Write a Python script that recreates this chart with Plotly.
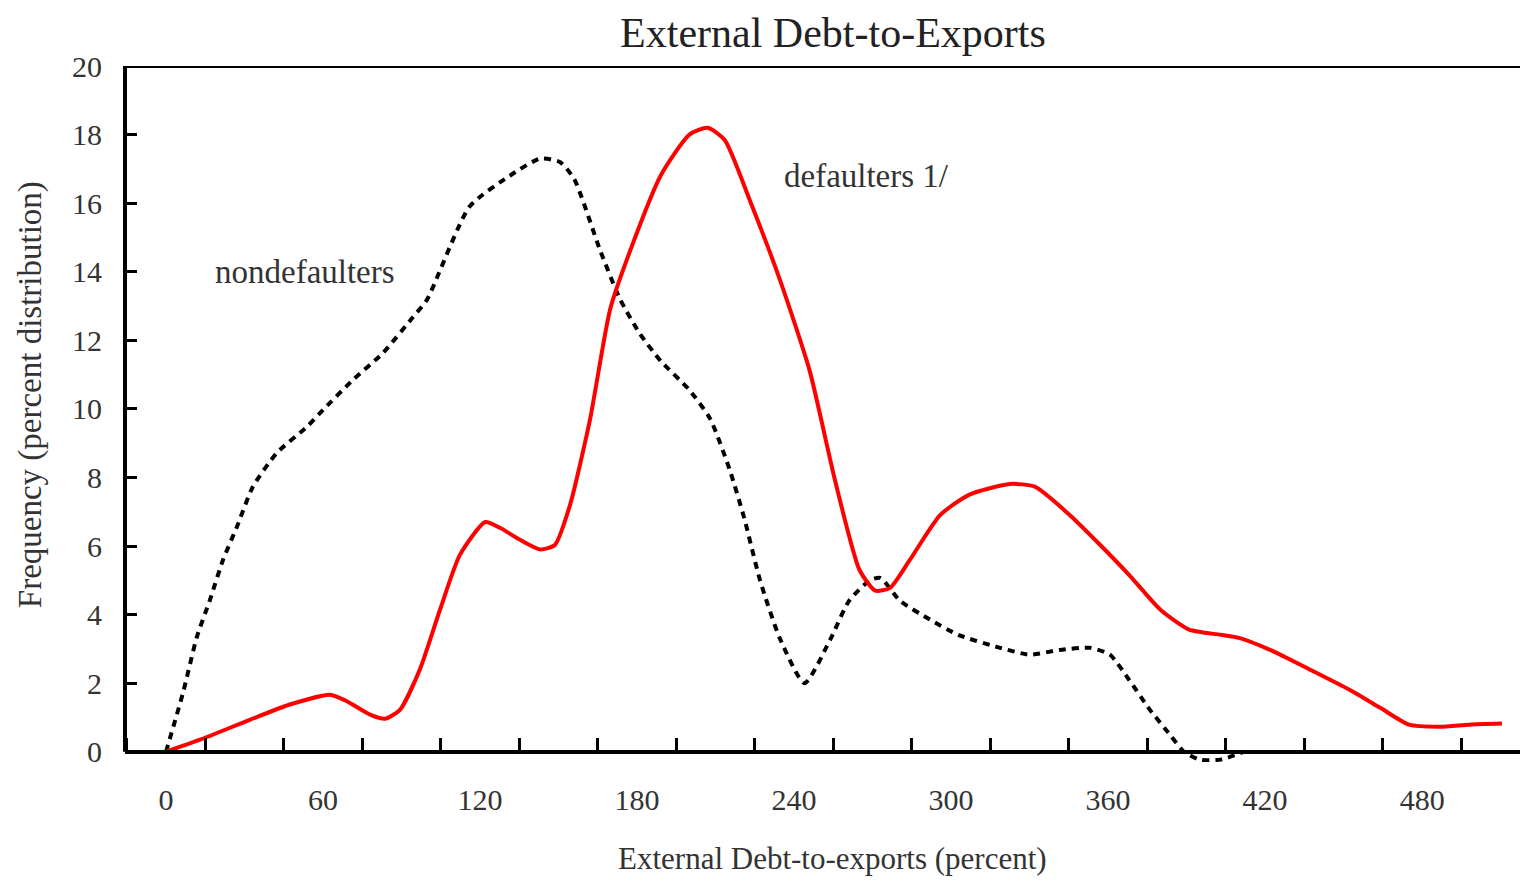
import plotly.graph_objects as go

FONT = "Liberation Serif, Times New Roman, serif"
TEXT = "#333333"

# nondefaulters (dotted black)
nd_x = [0, 6.5, 11.8, 16.8, 21.8, 27.1, 33.2, 42.4, 53.9, 60, 71.5, 82.9, 94.4, 99.7,
        116, 131.4, 143, 150.5, 156, 166, 173.5, 181, 189, 200, 208, 215.5, 221, 227,
        234.6, 244, 254, 261, 269, 273, 280.5, 292, 303, 318.7, 330, 341.6, 353,
        360.7, 368, 376, 383.6, 389, 395, 403, 412]
nd_y = [0, 1.72, 3.35, 4.43, 5.6, 6.56, 7.73, 8.72, 9.48, 9.97, 10.85, 11.63, 12.68, 13.18,
        15.9, 16.8, 17.3, 17.2, 16.7, 14.6, 13.2, 12.2, 11.4, 10.55, 9.7, 8.2, 6.8, 5.0,
        3.3, 2.0, 3.3, 4.4, 5.0, 5.07, 4.4, 3.85, 3.4, 3.03, 2.83, 2.97, 3.03,
        2.83, 2.1, 1.22, 0.5, 0.0, -0.23, -0.23, 0.0]

# defaulters (solid red)
d_x = [0, 13, 32, 47, 62.7, 68.4, 78, 83.7, 89.4, 97, 104.7, 112.3, 122, 127.6, 135.3,
       143, 148.6, 154.4, 162, 169.7, 177.3, 189, 200, 207, 213.5, 223, 234.6, 246,
       255.6, 265, 271, 276.7, 284.3, 295.8, 307, 322.5, 332, 345.4, 357, 368, 380,
       391, 403, 410, 421.9, 437, 452.4, 464, 475, 486.8, 498, 510.5]
d_y = [0, 0.35, 0.93, 1.37, 1.66, 1.5, 1.08, 0.96, 1.22, 2.4, 4.14, 5.74, 6.7, 6.53, 6.18,
       5.9, 6.03, 7.2, 9.68, 12.9, 14.6, 16.8, 18.0, 18.2, 17.84, 16.1, 13.76, 11.1,
       7.93, 5.3, 4.7, 4.78, 5.6, 6.9, 7.5, 7.81, 7.73, 6.9, 6.03, 5.16, 4.14,
       3.56, 3.41, 3.32, 2.97, 2.4, 1.8, 1.28, 0.79, 0.73, 0.79, 0.82]

x_labels = [0, 60, 120, 180, 240, 300, 360, 420, 480]
y_labels = [0, 2, 4, 6, 8, 10, 12, 14, 16, 18, 20]

X_RANGE = [-15.67, 517.4]
Y_RANGE = [-0.3, 20]

fig = go.Figure()
fig.add_trace(go.Scatter(
    x=nd_x, y=nd_y, mode="lines",
    line=dict(color="black", width=4, dash="7px,6px", shape="spline", smoothing=0.6),
    showlegend=False,
))
fig.add_trace(go.Scatter(
    x=d_x, y=d_y, mode="lines",
    line=dict(color="#ff0000", width=4, shape="spline", smoothing=0.6),
    showlegend=False,
))

fig.add_annotation(x=53, y=14.0, text="nondefaulters", showarrow=False,
                   font=dict(family=FONT, size=33, color=TEXT))
fig.add_annotation(x=267.5, y=16.8, text="defaulters 1/", showarrow=False,
                   font=dict(family=FONT, size=33, color=TEXT))

# frame: left axis from 0 to 20 and top line
fig.add_shape(type="line", xref="paper", yref="y", x0=0, x1=0, y0=0, y1=20,
              line=dict(color="black", width=4))
fig.add_shape(type="line", xref="paper", yref="y", x0=0, x1=1, y0=20, y1=20,
              line=dict(color="black", width=4))

zero_pos = (0 - Y_RANGE[0]) / (Y_RANGE[1] - Y_RANGE[0])

fig.update_layout(
    width=1512, height=868,
    margin=dict(l=117, r=0, t=58, b=114),
    paper_bgcolor="white", plot_bgcolor="white",
    title=dict(text="External Debt-to-Exports", x=0.5456, xanchor="center", y=0.972, yanchor="middle",
               font=dict(family=FONT, size=42, color="#222222")),
    xaxis=dict(
        range=X_RANGE, anchor="free", position=zero_pos,
        showline=True, linecolor="black", linewidth=4,
        showgrid=False, zeroline=False,
        tickvals=x_labels, ticks="", ticklabelstandoff=20,
        tickfont=dict(family=FONT, size=30, color=TEXT),
        minor=dict(tick0=15, dtick=30, ticks="inside", ticklen=12, tickwidth=3, tickcolor="black"),
    ),
    yaxis=dict(
        range=Y_RANGE, showline=False, showgrid=False, zeroline=False,
        tickvals=y_labels, ticks="inside", ticklen=12, tickwidth=3, tickcolor="black",
        ticklabelstandoff=22,
        tickfont=dict(family=FONT, size=30, color=TEXT),
    ),
)

fig.add_annotation(xref="paper", yref="paper", x=0.5075, y=-0.139, yanchor="middle",
                   text="External Debt-to-exports (percent)", showarrow=False,
                   font=dict(family=FONT, size=31, color=TEXT))
fig.add_annotation(xref="paper", yref="paper", x=-0.0681, y=0.527, xanchor="center", yanchor="middle",
                   text="Frequency (percent distribution)", textangle=-90, showarrow=False,
                   font=dict(family=FONT, size=33, color=TEXT))

fig.write_html("out.html")
